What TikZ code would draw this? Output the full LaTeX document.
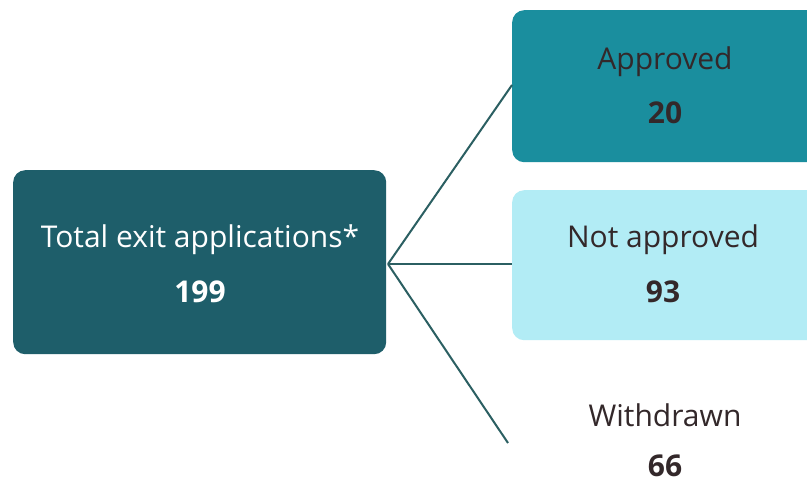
\documentclass[tikz,border=0pt]{standalone}
\usepackage{fontspec}
\setmainfont{Open Sans}
\definecolor{darkteal}{HTML}{1E5E6A}
\definecolor{midteal}{HTML}{1A8E9E}
\definecolor{lightcyan}{HTML}{B2ECF5}
\definecolor{linecol}{HTML}{2B5F62}
\definecolor{darktext}{HTML}{33282A}
\begin{document}
\begin{tikzpicture}[x=1pt,y=-1pt,
  box/.style={rounded corners=12pt, inner sep=0pt, anchor=north west},
  lbl/.style={font=\fontsize{30}{36}\selectfont, align=center},
  num/.style={font=\fontsize{30}{36}\selectfont\bfseries},
  conn/.style={draw=linecol, line width=2pt}]
\useasboundingbox (0,0) rectangle (807,483);
\clip (0,0) rectangle (807,483);
\fill[white] (0,0) rectangle (807,483);
% boxes
\node[box, fill=darkteal, minimum width=373pt, minimum height=184pt] (total) at (13,170) {};
\node[box, fill=midteal, minimum width=320pt, minimum height=152pt] (appr) at (512,10) {};
\node[box, fill=lightcyan, minimum width=320pt, minimum height=150pt] (napp) at (512,190) {};
\coordinate (hub) at (388,264);
\coordinate (wd) at (508,443);
% texts
\node[lbl, text=white] (t1) at (200,240) {Total exit applications*};
\node[num, text=white] (t2) at (200,292) {199};
\node[lbl, text=darktext] (a1) at (665,62) {Approved};
\node[num, text=darktext] (a2) at (665,113) {20};
\node[lbl, text=darktext] (n1) at (663,240) {Not approved};
\node[num, text=darktext] (n2) at (663,292) {93};
\node[lbl, text=darktext] (w1) at (665,415) {Withdrawn};
\node[num, text=darktext] (w2) at (665,466) {66};
% connectors
\draw[conn] (hub) -- (appr.south west |- 0,85);
\draw[conn] (hub) -- (napp.west |- hub);
\draw[conn] (hub) -- (wd);
\end{tikzpicture}
\end{document}
